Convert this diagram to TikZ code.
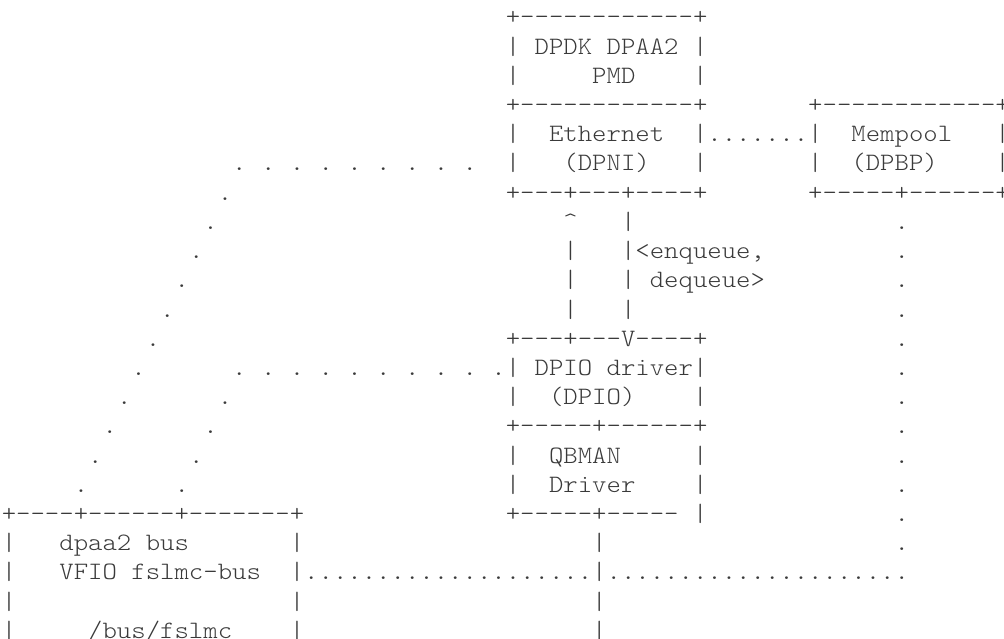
\documentclass[tikz,border=0pt]{standalone}
\usepackage{fontspec}
\newfontfamily\asc{lmmonolt10-regular.otf}[FakeStretch=1.09714]
\definecolor{ink}{HTML}{3A3A3A}
\newcommand\ascfont{\asc\fontsize{25}{25}\selectfont\fontdimen2\font=14.4pt\fontdimen3\font=0pt\fontdimen4\font=0pt\frenchspacing}
\begin{document}
\begin{tikzpicture}[x=14.4pt,y=-29.2pt,
  a/.style={anchor=base west,inner sep=0pt,outer sep=0pt,text=ink,font=\ascfont}]
\useasboundingbox ([xshift=-1.8pt,yshift=25pt]0,0) rectangle ++(1004pt,-639pt);
% DPDK DPAA2 PMD box
\node[a] (pmd0) at (35,0) {+------------+};
\node[a] (pmd1) at (35,1) {| DPDK DPAA2 |};
\node[a] (pmd2) at (35,2) {|~~~~~PMD~~~~|};
% Ethernet / Mempool
\node[a] (eth0) at (35,3) {+------------+};
\node[a] (mem0) at (56,3) {+------------+};
\node[a] (eth1) at (35,4) {|~~Ethernet~~|};
\node[a] (lnk4) at (49,4) {.......};
\node[a] (mem1) at (56,4) {|~~Mempool~~~|};
\node[a] (dl5) at (16,5) {. . . . . . . . .};
\node[a] (eth2) at (35,5) {|~~~(DPNI)~~~|};
\node[a] (mem2) at (56,5) {|~~(DPBP)~~~~|};
\node[a] (dl6) at (15,6) {.};
\node[a] (eth3) at (35,6) {+---+---+----+};
\node[a] (mem3) at (56,6) {+-----+------+};
% enqueue / dequeue
\node[a] (dl7) at (14,7) {.};
\node[a] (up7) at (39,7) {\textasciicircum};
\node[a] (dn7) at (43,7) {|};
\node[a] (dr7) at (62,7) {.};
\node[a] (dl8) at (13,8) {.};
\node[a] (up8) at (39,8) {|};
\node[a] (dn8) at (43,8) {|<enqueue,};
\node[a] (dr8) at (62,8) {.};
\node[a] (dl9) at (12,9) {.};
\node[a] (up9) at (39,9) {|};
\node[a] (dn9) at (43,9) {| dequeue>};
\node[a] (dr9) at (62,9) {.};
\node[a] (dl10) at (11,10) {.};
\node[a] (up10) at (39,10) {|};
\node[a] (dn10) at (43,10) {|};
\node[a] (dr10) at (62,10) {.};
% DPIO driver
\node[a] (dl11) at (10,11) {.};
\node[a] (dpio0) at (35,11) {+---+---V----+};
\node[a] (dr11) at (62,11) {.};
\node[a] (dl12) at (9,12) {.};
\node[a] (dm12) at (16,12) {. . . . . . . . . .};
\node[a] (dpio1) at (35,12) {| DPIO driver|};
\node[a] (dr12) at (62,12) {.};
\node[a] (dl13) at (8,13) {.};
\node[a] (dm13) at (15,13) {.};
\node[a] (dpio2) at (35,13) {|~~(DPIO)~~~~|};
\node[a] (dr13) at (62,13) {.};
\node[a] (dl14) at (7,14) {.};
\node[a] (dm14) at (14,14) {.};
\node[a] (dpio3) at (35,14) {+-----+------+};
\node[a] (dr14) at (62,14) {.};
% QBMAN driver
\node[a] (dl15) at (6,15) {.};
\node[a] (dm15) at (13,15) {.};
\node[a] (qb0) at (35,15) {|~~QBMAN~~~~~|};
\node[a] (dr15) at (62,15) {.};
\node[a] (dl16) at (5,16) {.};
\node[a] (dm16) at (12,16) {.};
\node[a] (qb1) at (35,16) {|~~Driver~~~~|};
\node[a] (dr16) at (62,16) {.};
% dpaa2 bus
\node[a] (bus0) at (0,17) {+----+------+-------+};
\node[a] (qb2) at (35,17) {+-----+-----~|};
\node[a] (dr17) at (62,17) {.};
\node[a] (bus1) at (0,18) {|~~~dpaa2 bus~~~~~~~|};
\node[a] (vq18) at (41,18) {|};
\node[a] (dr18) at (62,18) {.};
\node[a] (bus2) at (0,19) {|~~~VFIO fslmc-bus~~|};
\node[a] (lnk19a) at (21,19) {....................};
\node[a] (vq19) at (41,19) {|};
\node[a] (lnk19b) at (42,19) {.....................};
\node[a] (bus3) at (0,20) {|~~~~~~~~~~~~~~~~~~~|};
\node[a] (vq20) at (41,20) {|};
\node[a] (bus4) at (0,21) {|~~~~~/bus/fslmc~~~~|};
\node[a] (vq21) at (41,21) {|};
\end{tikzpicture}
\end{document}
